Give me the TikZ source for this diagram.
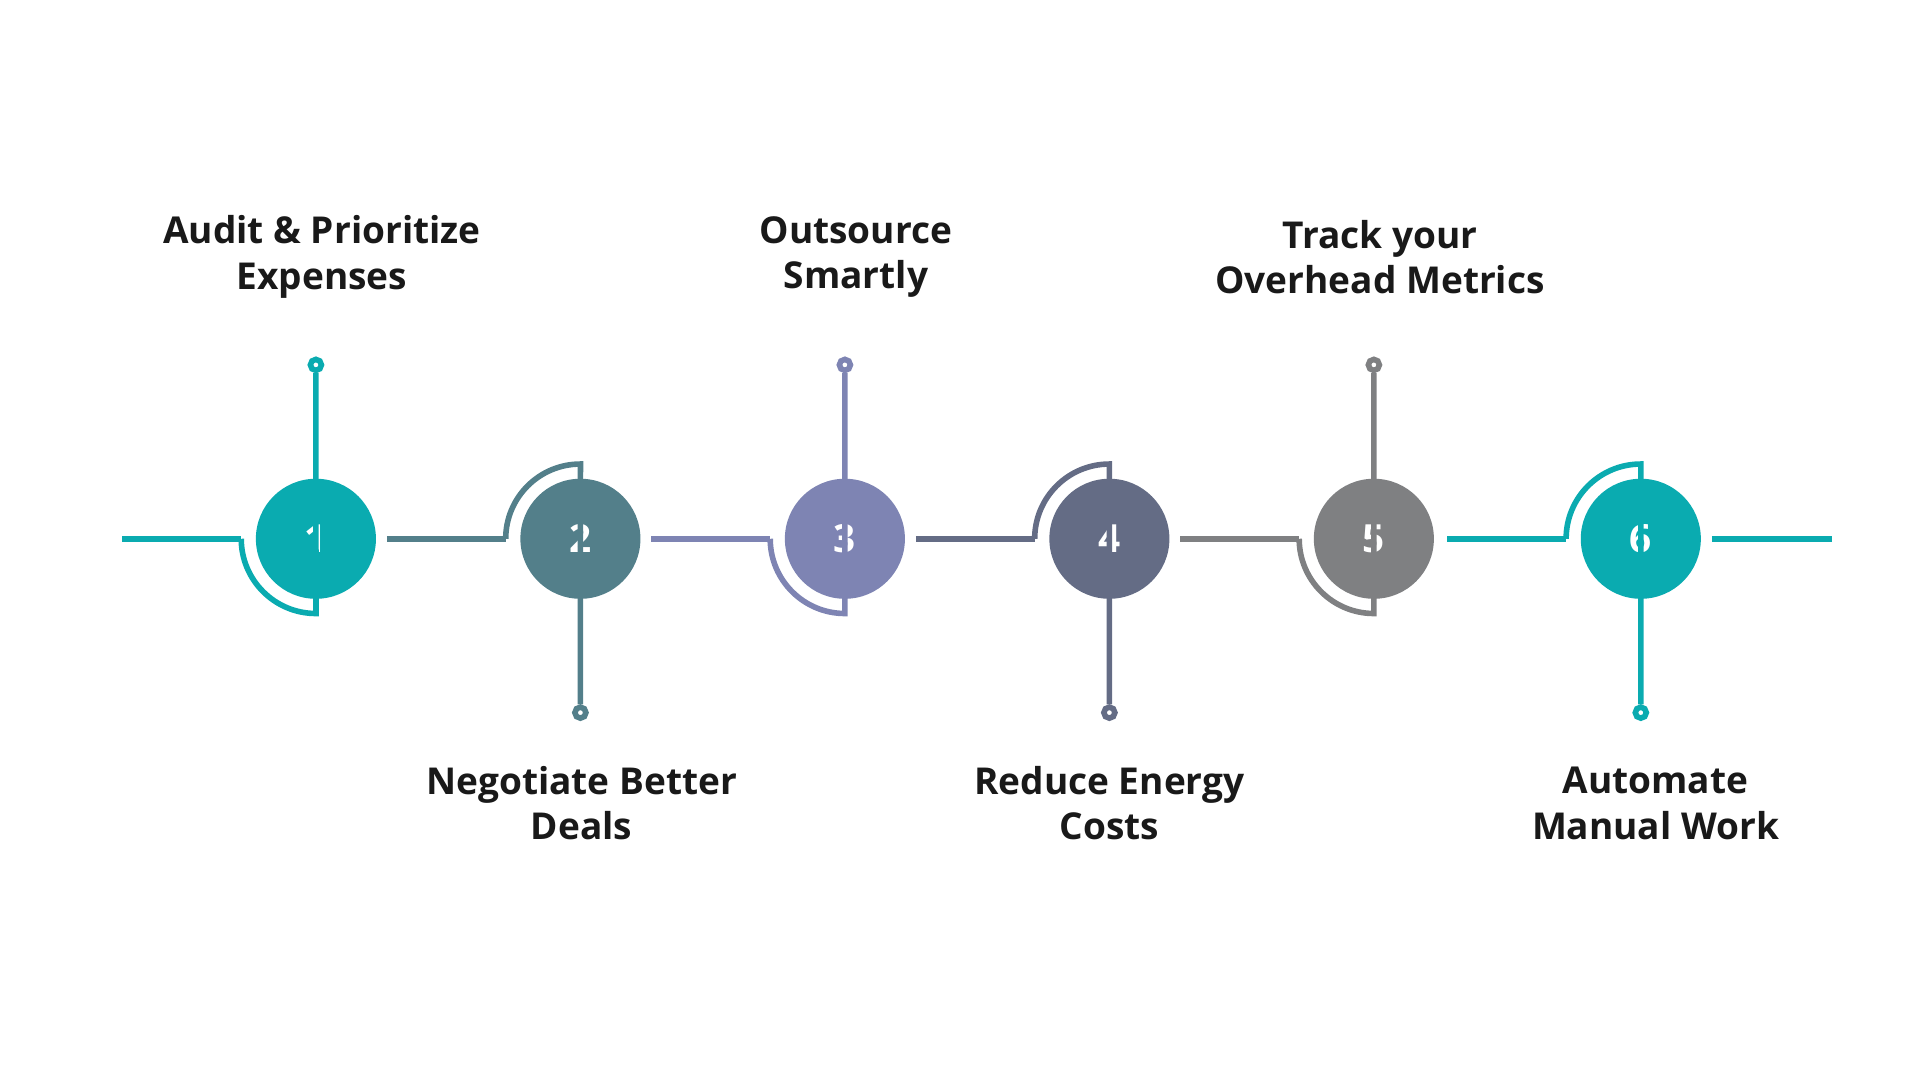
\documentclass[tikz,border=0pt]{standalone}
\usepackage{fontspec}
\setmainfont{Open Sans}
\definecolor{cA}{HTML}{0AABB0}
\definecolor{cB}{HTML}{537F8A}
\definecolor{cC}{HTML}{7E84B3}
\definecolor{cD}{HTML}{646C85}
\definecolor{cE}{HTML}{7F8082}
\begin{document}
\begin{tikzpicture}[x=0.01cm,y=-0.01cm,
  ln/.style={line width=1.3pt},
  num/.style={circle,minimum size=0.98cm,inner sep=0pt,text=white,font=\bfseries\fontsize{9}{10}\selectfont},
  lab/.style={align=center,font=\bfseries\fontsize{8.6}{10.6}\selectfont,text=black!90},
  dot/.style={circle,draw,line width=1.3pt,fill=white,minimum size=0.09cm,inner sep=0pt}]
\useasboundingbox (0,0) rectangle (1568,882);
\foreach \i/\x/\c/\s in {1/258/cA/-1,2/474/cB/1,3/690/cC/-1,4/906/cD/1,5/1122/cE/-1,6/1340/cA/1}{
  \node[num,fill=\c] (n\i) at (\x,440) {\i};
  \coordinate (s\i) at (\x-61,440);
  \coordinate (t\i) at (\x,440+\s*61);
  \node[dot,draw=\c] (d\i) at (\x,440+\s*142) {};
  \draw[ln,\c] (s\i) arc[start angle=180,end angle=180+\s*(-90),radius=0.61cm] -- (d\i);
}
\coordinate (L) at (100,440); \coordinate (R) at (1496,440);
\coordinate (e1) at (307,440); \coordinate (e2) at (523,440); \coordinate (e3) at (739,440);
\coordinate (e4) at (955,440); \coordinate (e5) at (1171,440); \coordinate (e6) at (1398,440);
\draw[ln,cA] (L) -- (s1);
\draw[ln,cB] ([xshift=0.09cm]e1) -- (s2);
\draw[ln,cC] ([xshift=0.09cm]e2) -- (s3);
\draw[ln,cD] ([xshift=0.09cm]e3) -- (s4);
\draw[ln,cE] ([xshift=0.09cm]e4) -- (s5);
\draw[ln,cA] ([xshift=0.11cm]e5) -- (s6);
\draw[ln,cA] (e6) -- (R);
\node[lab] (l1) at (263,210) {Audit \& Prioritize\\Expenses};
\node[lab] (l2) at (475,656) {Negotiate Better\\Deals};
\node[lab] (l3) at (699,210) {Outsource\\Smartly};
\node[lab] (l4) at (906,656) {Reduce Energy\\Costs};
\node[lab] (l5) at (1127,210) {Track your\\Overhead Metrics};
\node[lab] (l6) at (1352,656) {Automate\\Manual Work};
\end{tikzpicture}
\end{document}
